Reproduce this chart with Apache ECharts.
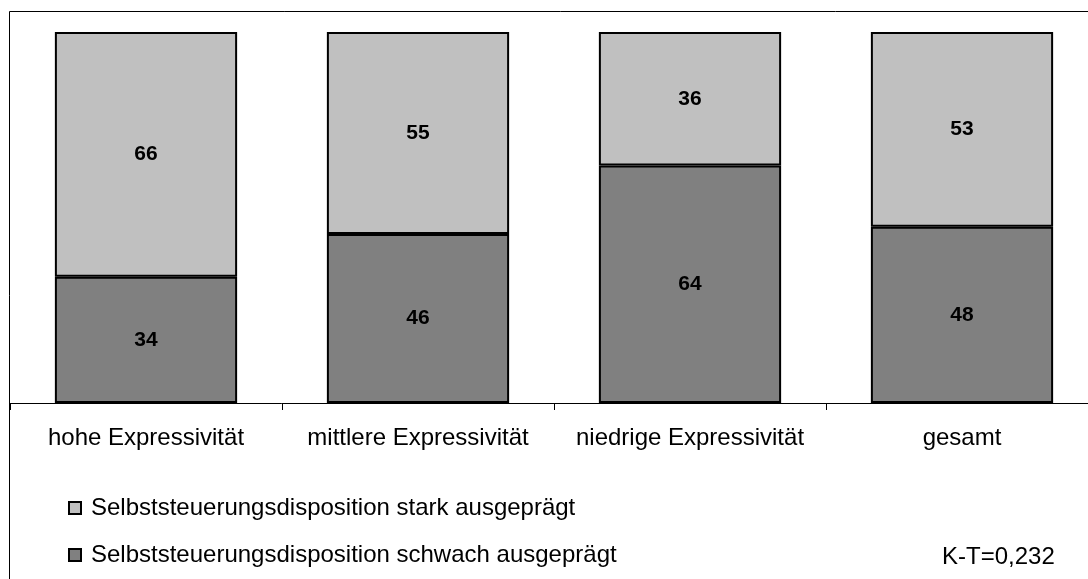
<!DOCTYPE html>
<html>
<head>
<meta charset="utf-8">
<script src="https://cdn.jsdelivr.net/npm/echarts@6/dist/echarts.min.js"></script>
<style>
  html, body { margin: 0; padding: 0; background: #fff; overflow: hidden; }
  #chart { width: 1110px; height: 579px; }
</style>
</head>
<body>
<div id="chart"></div>
<script>
// Groups on the category axis
const categories = ['hohe Expressivität', 'mittlere Expressivität', 'niedrige Expressivität', 'gesamt'];
// Percent shares per group (rounded, as reported)
const schwach = [34, 46, 64, 48];
const stark = [66, 55, 36, 53];
const seriesNames = [
  'Selbststeuerungsdisposition stark ausgeprägt',
  'Selbststeuerungsdisposition schwach ausgeprägt'
];
const note = 'K-T=0,232';

// 100 % stacked: each bar is scaled to the sum of its two shares
const totals = schwach.map((v, i) => v + stark[i]);
const toItems = arr => arr.map((v, i) => ({ value: v / totals[i] * 100, raw: v }));

const FONT = '"Liberation Sans", Arial, sans-serif';
const chart = echarts.init(document.getElementById('chart'), null, { renderer: 'canvas' });

const barLabel = {
  show: true,
  position: 'inside',
  formatter: p => String(p.data.raw),
  color: '#000',
  fontFamily: FONT,
  fontWeight: 'bold',
  fontSize: 21
};

chart.setOption({
  animation: false,
  backgroundColor: '#fff',
  grid: { left: 10, top: 32, width: 1088, height: 371, containLabel: false },
  xAxis: {
    type: 'category',
    data: categories,
    axisLine: { show: true, lineStyle: { color: '#000', width: 1 } },
    axisTick: { show: true, interval: 0, length: 7, lineStyle: { color: '#000' } },
    axisLabel: { interval: 0, hideOverlap: false, color: '#000', fontFamily: FONT, fontSize: 24, margin: 23 },
    splitLine: { show: false }
  },
  yAxis: {
    type: 'value',
    min: 0,
    max: 100,
    show: false
  },
  legend: {
    orient: 'vertical',
    left: 68,
    top: 496,
    padding: 0,
    itemGap: 23,
    itemWidth: 12,
    itemHeight: 12,
    icon: 'rect',
    data: seriesNames,
    itemStyle: { borderColor: '#000', borderWidth: 2 },
    textStyle: { color: '#000', fontFamily: FONT, fontSize: 24, padding: [0, 0, 0, 5] }
  },
  series: [
    {
      name: seriesNames[1],
      type: 'bar',
      stack: 'total',
      barWidth: '67%',
      data: toItems(schwach),
      itemStyle: { color: '#808080', borderColor: '#000', borderWidth: 2 },
      label: barLabel
    },
    {
      name: seriesNames[0],
      type: 'bar',
      stack: 'total',
      barWidth: '67%',
      data: toItems(stark),
      itemStyle: { color: '#c0c0c0', borderColor: '#000', borderWidth: 2 },
      label: barLabel
    }
  ],
  graphic: [
    {
      type: 'rect',
      silent: true,
      z: -1,
      shape: { x: 9.5, y: 11.5, width: 1120, height: 600 },
      style: { fill: null, stroke: '#000', lineWidth: 1 }
    },
    {
      type: 'text',
      left: 942,
      top: 545,
      style: { text: note, fill: '#000', font: '24px ' + FONT }
    }
  ]
});
</script>
</body>
</html>
